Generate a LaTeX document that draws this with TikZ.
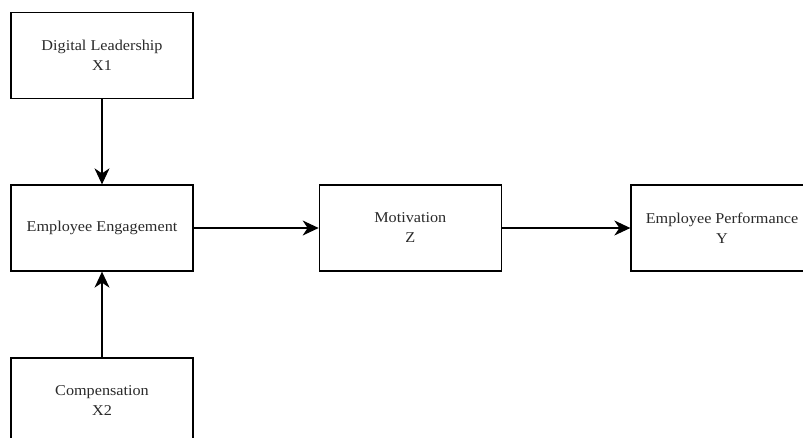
\documentclass[tikz,border=0pt]{standalone}
\usepackage{fontspec}
\setmainfont{Liberation Serif}[FakeStretch=1.08]
\usetikzlibrary{arrows.meta}
\definecolor{labelgrey}{HTML}{2A2A2A}
\tikzset{
  box/.style={draw=black, line width=1.3pt, fill=white, rectangle,
    minimum width=182pt, minimum height=86pt, inner sep=0pt,
    align=center, text=labelgrey, font=\fontsize{15}{20}\selectfont},
  link/.style={line width=1.3pt, -{Stealth[length=16pt,width=15pt,inset=5pt]}}
}
\begin{document}
\begin{tikzpicture}[x=1pt,y=-1pt]
  \clip (0,0) rectangle (803,437);
  \fill[white] (0,0) rectangle (803,437);
  \node[box] (dl)   at (102,55.5)  {Digital Leadership\\X1};
  \node[box] (ee)   at (102,228)   {Employee Engagement};
  \node[box] (comp) at (102,401)   {Compensation\\X2};
  \node[box] (mot)  at (410.3,228) {Motivation\\Z};
  \node[box] (ep)   at (722,228)   {Employee Performance\\Y};
  \draw[link] (dl) -- (ee);
  \draw[link] (comp) -- (ee);
  \draw[link] (ee) -- (mot);
  \draw[link] (mot) -- (ep);
\end{tikzpicture}
\end{document}
